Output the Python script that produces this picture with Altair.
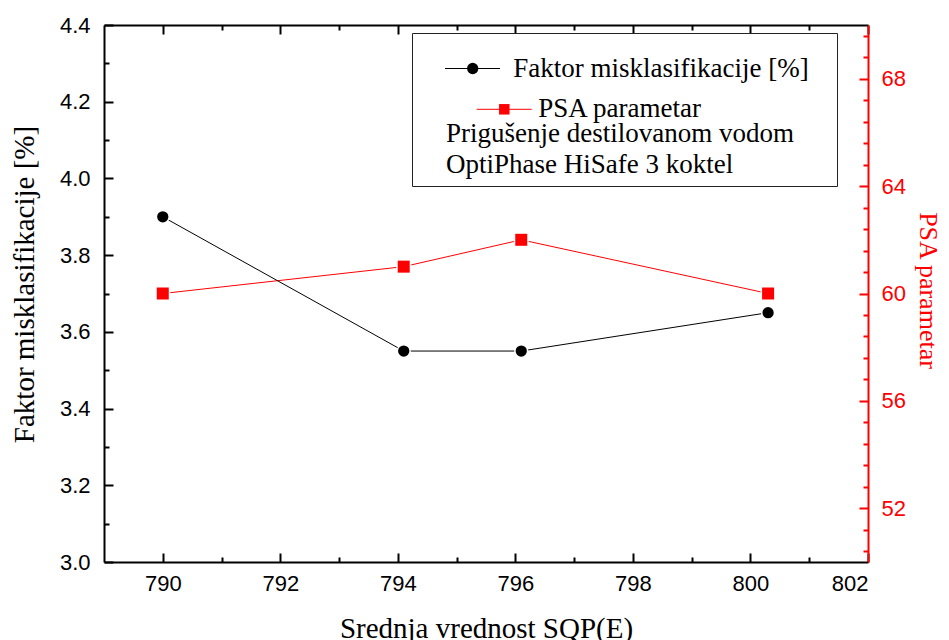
import altair as alt
import pandas as pd

# ---- data ----
x_vals = [790.0, 794.1, 796.1, 800.3]
mis_vals = [3.90, 3.55, 3.55, 3.65]          # Faktor misklasifikacije [%]
psa_vals = [60, 61, 62, 60]                  # PSA parametar

x_ticks = [790, 792, 794, 796, 798, 800, 802]
x_minor = [791, 793, 795, 797, 799, 801]
yl_ticks = [3.0, 3.2, 3.4, 3.6, 3.8, 4.0, 4.2, 4.4]
yl_minor = [3.1, 3.3, 3.5, 3.7, 3.9, 4.1, 4.3]
yr_ticks = [52, 56, 60, 64, 68]
yr_minor = [50.4, 51.2, 52.8, 53.6, 54.4, 55.2, 56.8, 57.6, 58.4, 59.2,
            60.8, 61.6, 62.4, 63.2, 64.8, 65.6, 66.4, 67.2, 68.8, 69.6]

legend_labels = ["Faktor misklasifikacije [%]", "PSA parametar"]
note_lines = ["Prigušenje destilovanom vodom", "OptiPhase HiSafe 3 koktel"]
x_title = "Srednja vrednost SQP(E)"
yl_title = "Faktor misklasifikacije [%]"
yr_title = "PSA parametar"

W, H = 764, 537
RED = "#ff0000"
SERIF = "Liberation Serif"
SANS = "Liberation Sans"

df = pd.DataFrame({"x": x_vals, "mis": mis_vals, "psa": psa_vals})
one = pd.DataFrame({"k": [0]})

xs = alt.Scale(domain=[789, 802], nice=False, zero=False)
yls = alt.Scale(domain=[3.0, 4.4], nice=False, zero=False)
yrs = alt.Scale(domain=[50, 70], nice=False, zero=False)


def tick_axis(orient, offset, values, size, color):
    return alt.Axis(orient=orient, offset=offset, values=values, labels=False,
                    domain=False, ticks=True, tickSize=size, tickWidth=2,
                    tickColor=color, grid=False, title=None)


ax_bottom = alt.Axis(orient="bottom", offset=0, values=x_ticks, format="d",
                     labelFont=SANS, labelFontSize=22, labelColor="black",
                     labelPadding=11, ticks=False, tickSize=0,
                     domain=True, domainColor="black", domainWidth=2, grid=False,
                     title=x_title, titleFont=SERIF, titleFontSize=29,
                     titleFontWeight="normal", titleColor="black",
                     titleX=382, titleY=75, titleAlign="center",
                     titleBaseline="alphabetic")
ax_top = alt.Axis(orient="bottom", offset=-H, values=x_ticks, labels=False,
                  domain=True, domainColor="black", domainWidth=2,
                  ticks=True, tickSize=9, tickWidth=2, tickColor="black",
                  grid=False, title=None)
ay_left = alt.Axis(orient="left", offset=0, values=yl_ticks, format=".1f",
                   labelFont=SANS, labelFontSize=22, labelColor="black",
                   labelPadding=14, ticks=False, tickSize=0,
                   domain=True, domainColor="black", domainWidth=2, grid=False,
                   title=yl_title, titleFont=SERIF, titleFontSize=29,
                   titleFontWeight="normal", titleColor="black",
                   titleAngle=270, titleX=-80, titleY=259, titleAlign="center",
                   titleBaseline="middle")
ay_right = alt.Axis(orient="right", offset=0, values=yr_ticks, format="d",
                    labelFont=SANS, labelFontSize=22, labelColor=RED,
                    labelPadding=13, ticks=False, tickSize=0,
                    domain=True, domainColor=RED, domainWidth=2, grid=False,
                    title=yr_title, titleFont=SERIF, titleFontSize=26,
                    titleFontWeight="normal", titleColor=RED,
                    titleAngle=90, titleX=59, titleY=265, titleAlign="center",
                    titleBaseline="middle")

base = alt.Chart(df)


def X(axis):
    return alt.X("x:Q", scale=xs, axis=axis)


def YL(axis):
    return alt.Y("mis:Q", scale=yls, axis=axis)


def YR(axis):
    return alt.Y("psa:Q", scale=yrs, axis=axis)


red_line = base.mark_line(color=RED, strokeWidth=1).encode(X(ax_top), YR(ay_right))
black_line = base.mark_line(color="black", strokeWidth=1).encode(X(ax_bottom), YL(ay_left))
black_halo = base.mark_point(shape="circle", filled=True, color="white", size=205, opacity=1).encode(
    X(tick_axis("top", -H, x_ticks, 9, "black")), YL(tick_axis("right", -W, yl_ticks, 9, "black")))
black_pts = base.mark_point(shape="circle", filled=True, color="black", size=127, opacity=1).encode(
    X(tick_axis("top", -H, x_minor, 5, "black")), YL(tick_axis("right", -W, yl_minor, 5, "black")))
red_halo = base.mark_point(shape="square", filled=True, color="white", size=225, opacity=1).encode(
    X(tick_axis("bottom", -H, x_minor, 5, "black")), YR(tick_axis("left", -W, yr_ticks, 9, RED)))
red_pts = base.mark_point(shape="square", filled=True, color=RED, size=144, opacity=1).encode(
    X(None), YR(tick_axis("left", -W, yr_minor, 5, RED)))

# ---- legend box ----
leg = alt.Chart(one)
box = leg.mark_rect(fill="white", stroke="#222222", strokeWidth=1).encode(
    x=alt.value(308.5), x2=alt.value(733.5), y=alt.value(8.5), y2=alt.value(161.5))
l1_line = leg.mark_rule(color="black", strokeWidth=1).encode(
    x=alt.value(341), x2=alt.value(396), y=alt.value(43.5))
l1_pt = leg.mark_point(shape="circle", filled=True, color="black", size=127, opacity=1).encode(
    x=alt.value(368.7), y=alt.value(43.5))
l1_txt = leg.mark_text(font=SERIF, fontSize=27, align="left", baseline="alphabetic", color="black").encode(
    x=alt.value(409.3), y=alt.value(52.3), text=alt.value(legend_labels[0]))
l2_line = leg.mark_rule(color=RED, strokeWidth=1).encode(
    x=alt.value(372.7), x2=alt.value(427.7), y=alt.value(84.3))
l2_pt = leg.mark_point(shape="square", filled=True, color=RED, size=110, opacity=1).encode(
    x=alt.value(400.3), y=alt.value(84.3))
l2_txt = leg.mark_text(font=SERIF, fontSize=27, align="left", baseline="alphabetic", color="black").encode(
    x=alt.value(434.3), y=alt.value(91.5), text=alt.value(legend_labels[1]))
n1_txt = leg.mark_text(font=SERIF, fontSize=27, align="left", baseline="alphabetic", color="black").encode(
    x=alt.value(342), y=alt.value(116.5), text=alt.value(note_lines[0]))
n2_txt = leg.mark_text(font=SERIF, fontSize=27, align="left", baseline="alphabetic", color="black").encode(
    x=alt.value(342), y=alt.value(148.3), text=alt.value(note_lines[1]))

chart = alt.layer(
    red_line, black_line, black_halo, red_halo, black_pts, red_pts,
    box, l1_line, l1_pt, l1_txt, l2_line, l2_pt, l2_txt, n1_txt, n2_txt,
).resolve_scale(
    x="shared", y="independent"
).resolve_axis(
    x="independent", y="independent"
).properties(
    width=W, height=H,
    autosize=alt.AutoSizeParams(type="none"),
    padding={"left": 96, "top": 17, "right": 73, "bottom": 78},
    background="white",
).configure_view(stroke=None)

chart.save("out.html", embed_options={"renderer": "svg", "actions": False})
